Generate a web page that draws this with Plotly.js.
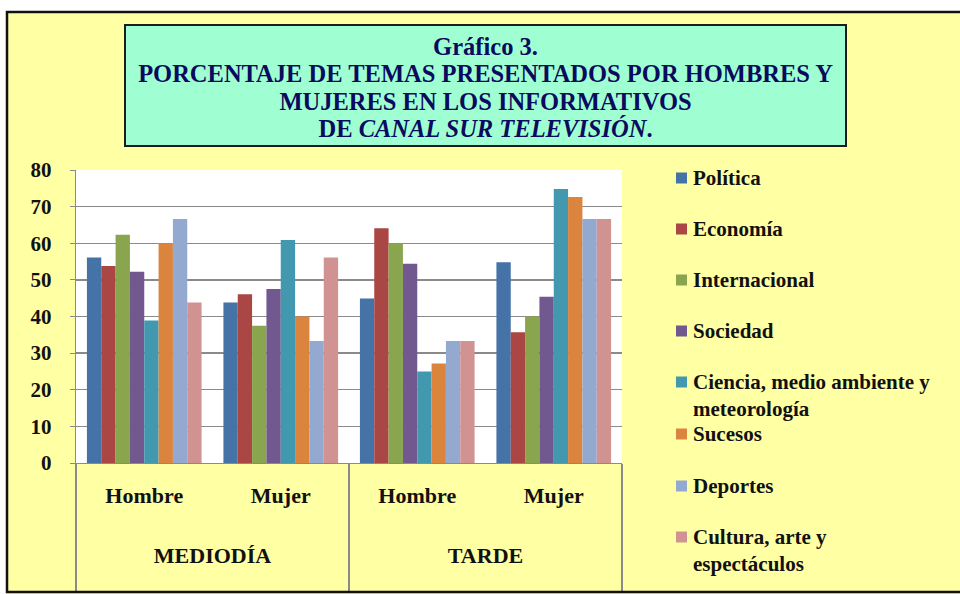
<!DOCTYPE html>
<html>
<head>
<meta charset="utf-8">
<script src="https://cdn.plot.ly/plotly-3.0.1.min.js"></script>
<style>
  html, body { margin: 0; padding: 0; background: #ffffff; }
  #chart { width: 960px; height: 594px; }
</style>
</head>
<body>
<div id="chart"></div>
<script>
// ---- Data ----
const periods = ['MEDIODÍA', 'MEDIODÍA', 'TARDE', 'TARDE'];
const sexes = ['Hombre', 'Mujer', 'Hombre', 'Mujer'];

const topics = ['Política', 'Economía', 'Internacional', 'Sociedad',
  'Ciencia, medio ambiente y<br>meteorología', 'Sucesos', 'Deportes',
  'Cultura, arte y<br>espectáculos'];

const titleLines = ['Gráfico 3.', 'PORCENTAJE DE TEMAS PRESENTADOS POR HOMBRES Y',
  'MUJERES EN LOS INFORMATIVOS', 'DE <i>CANAL SUR TELEVISIÓN</i>.'];

const politica      = [56.1, 43.8, 44.9, 54.8];
const economia      = [53.8, 46.1, 64.1, 35.7];
const internacional = [62.3, 37.5, 60.0, 40.0];
const sociedad      = [52.2, 47.5, 54.4, 45.4];
const ciencia       = [38.9, 60.9, 25.0, 74.8];
const sucesos       = [60.0, 40.0, 27.2, 72.6];
const deportes      = [66.6, 33.3, 33.3, 66.6];
const cultura       = [43.8, 56.1, 33.3, 66.6];

const seriesValues = [politica, economia, internacional, sociedad, ciencia, sucesos, deportes, cultura];
const colors = ['#4572A7', '#AA4643', '#89A54E', '#71588F', '#4198AF', '#DB843D', '#93A9CF', '#D19392'];

const yTicks = [0, 10, 20, 30, 40, 50, 60, 70, 80];

// ---- Layout helpers ----
const W = 960, H = 594;
const M = { l: 76, r: 338, t: 170, b: 131 };
const PW = W - M.l - M.r, PH = H - M.t - M.b;
const px = x => (x - M.l) / PW;
const py = y => (H - M.b - y) / PH;

const serif = 'Liberation Serif, Times New Roman, serif';
const big = s => '<span style="font-size:22px">' + s + '</span>';
const tiny = '<span style="font-size:4px">\u00a0</span>';

// category labels: blank lines only set the spacing of the two label rows
const NB = '\u00a0';
const periodLabels = periods.map(p => NB + '<br>' + big(p) + '<br>' + tiny);
const sexLabels = sexes.map(s => big(s) + '<br>' + tiny);

const traces = seriesValues.map((vals, i) => ({
  type: 'bar',
  name: topics[i],
  x: [periodLabels, sexLabels],
  y: vals,
  marker: { color: colors[i] },
  showlegend: false,
  hoverinfo: 'y+name'
}));

const shapes = [];
const annotations = [];

// title box
shapes.push({
  type: 'rect', xref: 'paper', yref: 'paper', layer: 'below',
  x0: px(125), x1: px(846), y0: py(25), y1: py(146),
  fillcolor: '#A0FFD2', line: { color: '#1c1c1c', width: 2 }
});

// white page margins and black frame
shapes.push({ type: 'rect', xref: 'paper', yref: 'paper', layer: 'above',
  x0: px(-2), x1: px(970), y0: py(-2), y1: py(11), fillcolor: '#ffffff', line: { width: 0 } });
shapes.push({ type: 'rect', xref: 'paper', yref: 'paper', layer: 'above',
  x0: px(-2), x1: px(6), y0: py(-2), y1: py(600), fillcolor: '#ffffff', line: { width: 0 } });
shapes.push({ type: 'rect', xref: 'paper', yref: 'paper', layer: 'above',
  x0: px(7), x1: px(975), y0: py(12), y1: py(592), fillcolor: 'rgba(0,0,0,0)',
  line: { color: '#111111', width: 2.5 } });

// custom legend
const legendY = [178, 229, 280, 331, 382, 434, 486, 537];
topics.forEach((t, i) => {
  shapes.push({
    type: 'rect', xref: 'paper', yref: 'paper', layer: 'above',
    x0: px(676), x1: px(687), y0: py(legendY[i] + 5.5), y1: py(legendY[i] - 5.5),
    fillcolor: colors[i], line: { width: 0 }
  });
  annotations.push({
    xref: 'paper', yref: 'paper', x: px(691), y: py(legendY[i] - 14),
    xanchor: 'left', yanchor: 'top', align: 'left', showarrow: false,
    text: t, font: { family: serif, size: 21, color: '#111111', weight: 'bold' }
  });
});

const layout = {
  width: W, height: H,
  margin: M,
  paper_bgcolor: '#FFFFA4',
  plot_bgcolor: '#ffffff',
  bargap: 0.16,
  bargroupgap: 0,
  barmode: 'group',
  title: {
    text: titleLines.map(l => '<span style="font-size:24.5px">' + l + '</span>').join('<br>'),
    font: { family: serif, size: 21, color: '#0a0a5e', weight: 'bold' },
    x: 485.5 / W, xanchor: 'center',
    y: 1 - 55 / H, yanchor: 'middle', yref: 'container'
  },
  xaxis: {
    type: 'multicategory',
    showline: true, linecolor: '#8a8a8a', linewidth: 1.3,
    showdividers: true, dividercolor: '#8a8a8a', dividerwidth: 1.3,
    tickfont: { family: serif, size: 20, color: '#111111', weight: 'bold' },
    ticklabelstandoff: 15,
    ticks: '', showgrid: false
  },
  yaxis: {
    range: [0, 80],
    tickvals: yTicks,
    showgrid: true, gridcolor: '#8a8a8a', gridwidth: 1.3,
    showline: true, linecolor: '#8a8a8a', linewidth: 1.3,
    ticks: 'outside', ticklen: 5, tickcolor: '#8a8a8a',
    ticklabelstandoff: 14,
    zeroline: false,
    tickfont: { family: serif, size: 21, color: '#111111', weight: 'bold' }
  },
  shapes: shapes,
  annotations: annotations
};

Plotly.newPlot('chart', traces, layout, { displayModeBar: false, staticPlot: true });
</script>
</body>
</html>
